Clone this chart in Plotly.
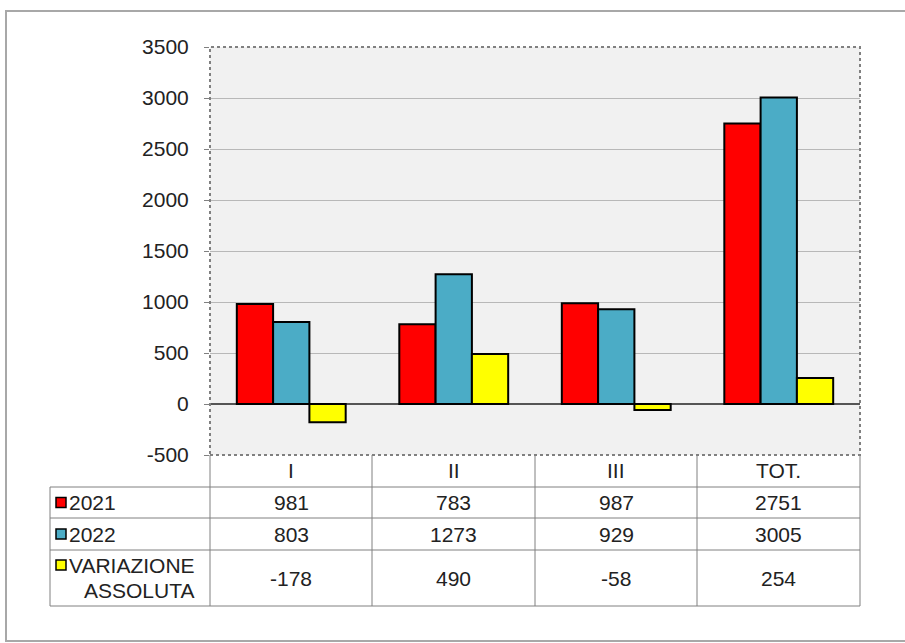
import plotly.graph_objects as go

categories = ["I", "II", "III", "TOT."]
series_names = ["2021", "2022", "VARIAZIONE<br>ASSOLUTA"]
v2021 = [981, 783, 987, 2751]
v2022 = [803, 1273, 929, 3005]
variazione = [-178, 490, -58, 254]
colors = ["#ff0000", "#4bacc6", "#ffff00"]
y_ticks = [-500, 0, 500, 1000, 1500, 2000, 2500, 3000, 3500]

W, H = 905, 643
def X(px): return px / W
def Y(py): return 1 - py / H

FONT = "Liberation Sans, Arial, sans-serif"
FS = 21
TXT = "#222222"

fig = go.Figure()
for name, vals, col in zip(series_names, [v2021, v2022, variazione], colors):
    fig.add_trace(go.Bar(x=categories, y=vals, name=name, marker=dict(color=col, line=dict(color="black", width=2)),
                         showlegend=False))

shapes = []
# outer border
shapes.append(dict(type="rect", xref="paper", yref="paper", x0=X(6), x1=X(915), y0=Y(641), y1=Y(11),
                   line=dict(color="#a8a8a8", width=2), layer="below"))
# plot area dotted border
shapes.append(dict(type="rect", xref="paper", yref="paper", x0=X(210), x1=X(860), y0=Y(455), y1=Y(47),
                   line=dict(color="#808080", width=2, dash="dot"), layer="above"))
# table lines
gray = "#808080"
row_y = [487, 518, 550, 606]
for ry in row_y:
    shapes.append(dict(type="line", xref="paper", yref="paper", x0=X(50), x1=X(860), y0=Y(ry), y1=Y(ry),
                       line=dict(color=gray, width=1)))
for cx in [210, 372, 535, 697, 860]:
    shapes.append(dict(type="line", xref="paper", yref="paper", x0=X(cx), x1=X(cx), y0=Y(455), y1=Y(606),
                       line=dict(color=gray, width=1)))
shapes.append(dict(type="line", xref="paper", yref="paper", x0=X(50), x1=X(50), y0=Y(487), y1=Y(606),
                   line=dict(color=gray, width=1)))

annotations = []
# header row categories
for c in categories:
    annotations.append(dict(x=c, xref="x", y=Y(471), yref="paper", yanchor="middle", text=c, showarrow=False,
                            font=dict(family=FONT, size=FS, color=TXT)))
row_centers = [502.5, 534, 578]
for vals, ry in zip([v2021, v2022, variazione], row_centers):
    for c, v in zip(categories, vals):
        annotations.append(dict(x=c, xref="x", y=Y(ry), yref="paper", yanchor="middle", text=str(v),
                                showarrow=False, font=dict(family=FONT, size=FS, color=TXT)))
# legend keys + row labels
key_y = [502.5, 534, 565]
for name, col, ky, ry in zip(series_names, colors, key_y, row_centers):
    shapes.append(dict(type="rect", xref="paper", yref="paper", x0=X(56), x1=X(66), y0=Y(ky + 5), y1=Y(ky - 5),
                       fillcolor=col, line=dict(color="black", width=1.5)))
    if "<br>" in name:
        annotations.append(dict(x=X(67), xref="paper", y=Y(565), yref="paper", yanchor="middle", text="VARIAZIONE",
                                showarrow=False, xanchor="left", font=dict(family=FONT, size=FS, color=TXT)))
        annotations.append(dict(x=X(196), xref="paper", y=Y(590), yref="paper", yanchor="middle", text="ASSOLUTA",
                                showarrow=False, xanchor="right", font=dict(family=FONT, size=FS, color=TXT)))
    else:
        annotations.append(dict(x=X(67), xref="paper", y=Y(ry), yref="paper", yanchor="middle", text=name,
                                showarrow=False, xanchor="left", font=dict(family=FONT, size=FS, color=TXT)))

fig.update_layout(
    width=W, height=H,
    autosize=False,
    margin=dict(l=0, r=0, t=0, b=0, pad=0, autoexpand=False),
    paper_bgcolor="white",
    plot_bgcolor="#f1f1f1",
    barmode="group",
    bargap=0.33,
    bargroupgap=0,
    xaxis=dict(domain=[X(210), X(860)], showticklabels=False, showgrid=False, zeroline=False,
               showline=False, ticks="", automargin=False),
    yaxis=dict(domain=[Y(455), Y(47)], range=[-500, 3500], tickvals=y_ticks,
               ticktext=[str(t) for t in y_ticks], automargin=False,
               showgrid=True, gridcolor="#b8b8b8", gridwidth=1,
               zeroline=True, zerolinecolor="#555555", zerolinewidth=1.5,
               ticks="outside", ticklen=5, tickcolor="#808080", ticklabelstandoff=11,
               showline=False,
               tickfont=dict(family=FONT, size=FS, color=TXT)),
    shapes=shapes,
    annotations=annotations,
)

fig.write_html("out.html", config={"displayModeBar": False})
